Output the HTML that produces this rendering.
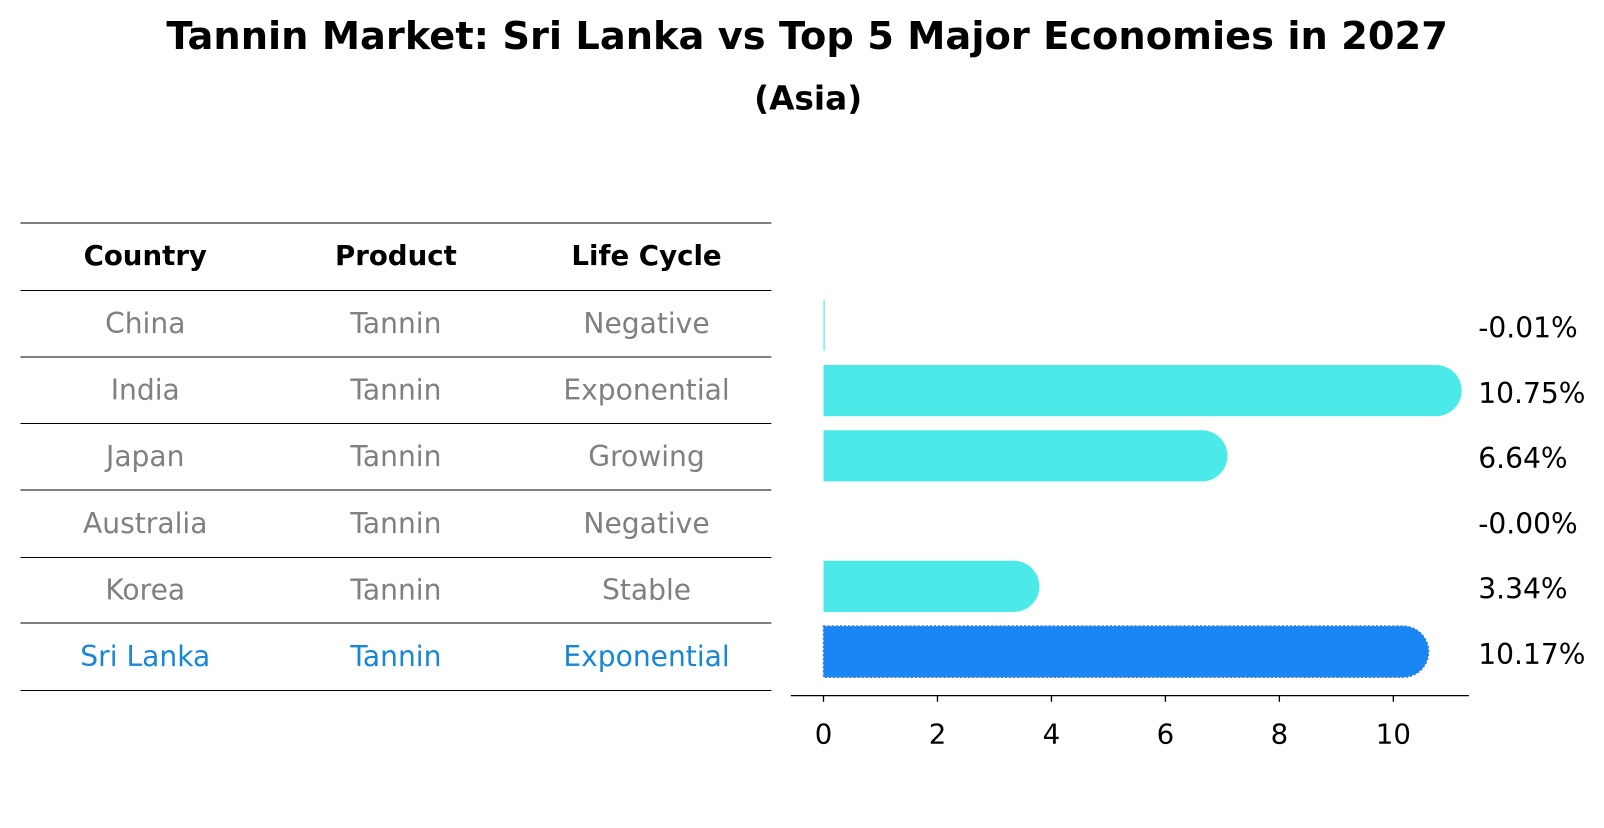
<!DOCTYPE html>
<html><head><meta charset="utf-8"><style>
body{margin:0;background:#fff;}
svg text{font-family:"DejaVu Sans","Liberation Sans",sans-serif;}
</style></head><body>
<svg id="chart" width="1604" height="823" viewBox="0 0 1604 823" xmlns="http://www.w3.org/2000/svg">
<g id="root" transform="scale(1.023)">
<text x="789" y="48" text-anchor="middle" font-size="37.5" font-weight="bold">Tannin Market: Sri Lanka vs Top 5 Major Economies in 2027</text>
<text x="790" y="107" text-anchor="middle" font-size="32" font-weight="bold">(Asia)</text>
<g id="table"></g>
<g id="bars"></g>
</g>
</svg>
<script>
const countries = ["China","India","Japan","Australia","Korea","Sri Lanka"];
const products = ["Tannin","Tannin","Tannin","Tannin","Tannin","Tannin"];
const lifeCycles = ["Negative","Exponential","Growing","Negative","Stable","Exponential"];
const growth = [-0.01,10.75,6.64,-0.00,3.34,10.17];
const valueLabels = ["-0.01%","10.75%","6.64%","-0.00%","3.34%","10.17%"];
const xTicks = [0,2,4,6,8,10];

const NS="http://www.w3.org/2000/svg";
function mk(tag,attrs,parent){const e=document.createElementNS(NS,tag);for(const k in attrs)e.setAttribute(k,attrs[k]);parent.appendChild(e);return e;}

// table
const tbl=document.getElementById('table');
const lineYs=[218,284,349,414,479,545,609,675];
lineYs.forEach(y=>{const l=mk('line',{x1:20,x2:754,y1:y,y2:y,stroke:'#000','stroke-width':1},tbl);

});
const colX=[142,387,632];
["Country","Product","Life Cycle"].forEach((h,i)=>{const t=mk('text',{x:colX[i],y:259,'text-anchor':'middle','font-size':27,'font-weight':'bold'},tbl);t.textContent=h;

});
countries.forEach((c,r)=>{
  const y=(lineYs[r+1]+lineYs[r+2])/2+9;
  const col=c==="Sri Lanka"?'#1a87d6':'#808080';
  [c,products[r],lifeCycles[r]].forEach((v,i)=>{const t=mk('text',{x:colX[i],y:y,'text-anchor':'middle','font-size':27.5,fill:col},tbl);t.textContent=v;
  
  });
});

// bar chart
const g=document.getElementById('bars');
const x0=805, pxPerUnit=55.7;
const xs=v=>x0+v*pxPerUnit;
const rowY=i=>318+i*63.8;
const barH=50;
const ax=mk('line',{x1:773,x2:1436,y1:680,y2:680,stroke:'#000','stroke-width':1.3},g);


xTicks.forEach(v=>{
  const tk=mk('line',{x1:xs(v),x2:xs(v),y1:680,y2:686,stroke:'#000','stroke-width':1.3},g);
  
  
  const t=mk('text',{x:xs(v),y:727,'text-anchor':'middle','font-size':27},g);t.textContent=v;
  
  
});
growth.forEach((v,i)=>{
  const cy=rowY(i), top=cy-barH/2;
  const sri=countries[i]==="Sri Lanka";
  const fill=sri?'#1a85f5':'#4beae8';
  const r=barH/2;
  let b;
  if(v<=0){
    b=mk('rect',{x:x0,y:top,width:Math.abs(v)*pxPerUnit*2,height:barH,fill:fill},g);
  } else {
    const w=xs(v)-x0;
    const d=`M${x0},${top} H${x0+w} A${r},${r} 0 0 1 ${x0+w},${top+barH} H${x0} Z`;
    b=mk('path',{d:d,fill:fill},g);
    if(sri){b.setAttribute('stroke','#3a7fd0');b.setAttribute('stroke-dasharray','2,2');b.setAttribute('stroke-width','1.5');}
  }
  
  
  const t=mk('text',{x:1445,y:cy+12,'font-size':27.5},g);t.textContent=valueLabels[i];
  
  
});
</script>
</body></html>
